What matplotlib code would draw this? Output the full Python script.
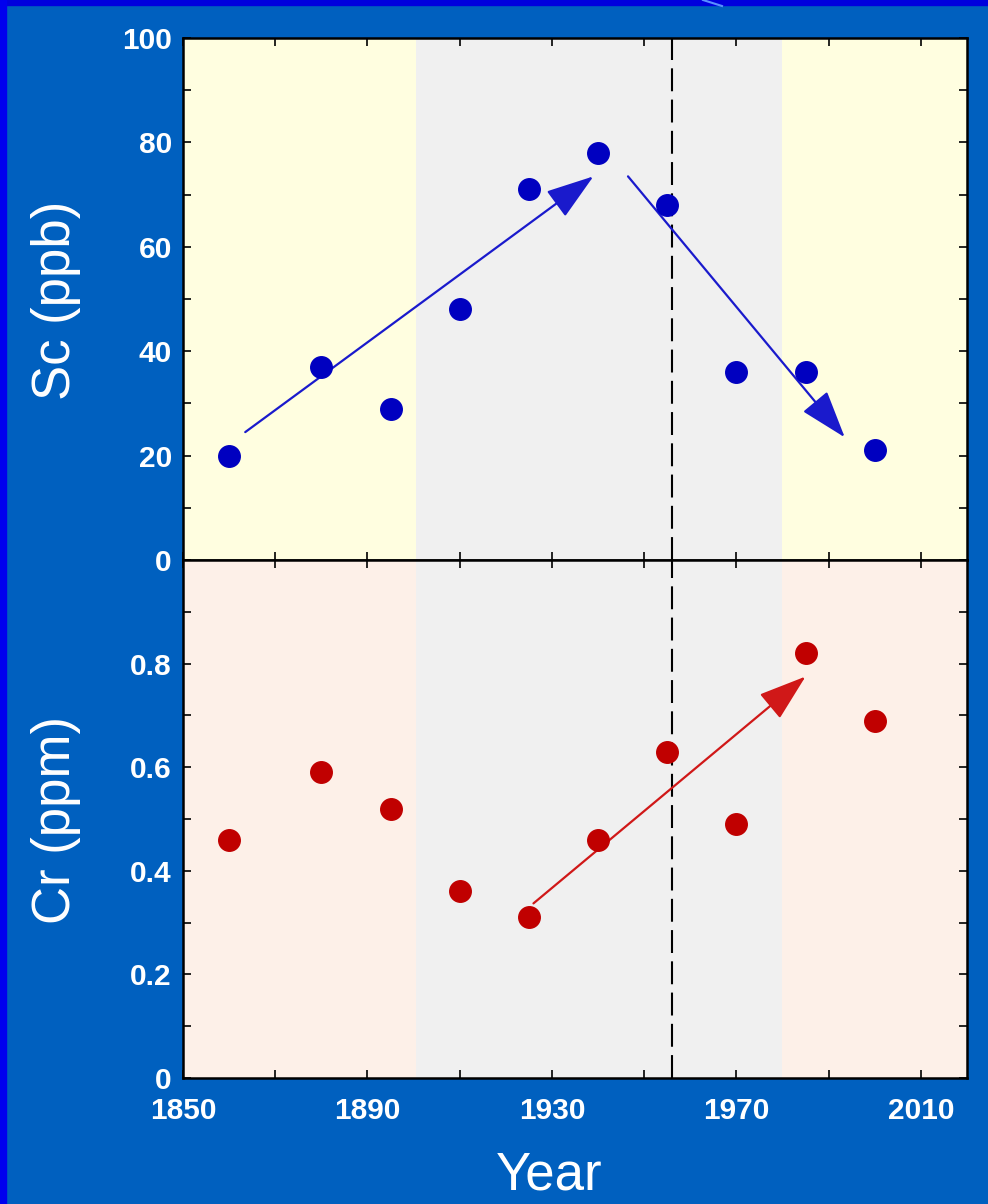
import matplotlib
matplotlib.use("Agg")
import matplotlib.pyplot as plt
from matplotlib.ticker import FixedLocator, FixedFormatter, MultipleLocator

plt.rcParams['font.family'] = ['Liberation Sans', 'DejaVu Sans']

# sample years and concentrations
years = [1860, 1880, 1895, 1910, 1925, 1940, 1955, 1970, 1985, 2000]
sc_ppb = [20, 37, 29, 48, 71, 78, 68, 36, 36, 21]
cr_ppm = [0.46, 0.59, 0.52, 0.36, 0.31, 0.46, 0.63, 0.49, 0.82, 0.69]

# trend arrows: (x0, y0, x1, y1)
sc_arrows = [(1863.5, 24.5, 1939, 73.5), (1946.5, 73.5, 1993.5, 23.5)]
cr_arrows = [(1926, 0.337, 1985, 0.775)]

# shaded periods
periods = [(1850, 1900.5), (1900.5, 1980), (1980, 2020)]
sc_shades = ['#FFFEE0', '#F0F0F0', '#FFFEE0']
cr_shades = ['#FDF0E8', '#F0F0F0', '#FDF0E8']
marker_year = 1956

x_major = [1850, 1890, 1930, 1970, 2010]
x_minor = [1870, 1910, 1950, 1990]
cr_major = [0, 0.2, 0.4, 0.6, 0.8]
cr_labels = ['0', '0.2', '0.4', '0.6', '0.8']

BG = '#0060BF'

fig = plt.figure(figsize=(9.88, 12.04), dpi=100, facecolor=BG)
ax1 = fig.add_axes([0.1852, 0.5349, 0.7935, 0.4335])
ax2 = fig.add_axes([0.1852, 0.1047, 0.7935, 0.4302], sharex=ax1)


def style(ax):
    ax.tick_params(which='both', direction='in', top=True, right=True,
                   length=6, width=1.2, color='black',
                   labelsize=21.5, labelcolor='white', pad=8)
    ax.tick_params(axis='x', pad=14)
    for lab in ax.get_xticklabels() + ax.get_yticklabels():
        lab.set_fontweight('bold')
    for s in ax.spines.values():
        s.set_linewidth(1.8)
        s.set_color('black')


for (a, b), c in zip(periods, sc_shades):
    ax1.axvspan(a, b, color=c, lw=0, zorder=0)
for (a, b), c in zip(periods, cr_shades):
    ax2.axvspan(a, b, color=c, lw=0, zorder=0)

for ax in (ax1, ax2):
    ax.axvline(marker_year, color='black', lw=1.5, dashes=(11, 4), zorder=1)

ax1.plot(years, sc_ppb, 'o', color='#0000C0', ms=15.5, mec='#0000C0', zorder=4)
ax2.plot(years, cr_ppm, 'o', color='#C00000', ms=15.5, mec='#C00000', zorder=4)

head = '-|>,head_length=1.5,head_width=0.5'
for x0, y0, x1, y1 in sc_arrows:
    ax1.annotate('', xy=(x1, y1), xytext=(x0, y0),
                 arrowprops=dict(arrowstyle=head, mutation_scale=20,
                                 color='#1A1ACC', lw=1.6,
                                 shrinkA=0, shrinkB=0), zorder=3)
for x0, y0, x1, y1 in cr_arrows:
    ax2.annotate('', xy=(x1, y1), xytext=(x0, y0),
                 arrowprops=dict(arrowstyle=head, mutation_scale=20,
                                 color='#D01818', lw=1.6,
                                 shrinkA=0, shrinkB=0), zorder=3)

ax1.set_xlim(1850, 2020)
ax1.set_ylim(0, 100)
ax2.set_ylim(0, 1.0)

ax1.xaxis.set_major_locator(FixedLocator(x_major))
ax1.xaxis.set_minor_locator(FixedLocator(x_minor))
ax1.yaxis.set_major_locator(MultipleLocator(20))
ax1.yaxis.set_minor_locator(MultipleLocator(10))
ax2.yaxis.set_major_locator(FixedLocator(cr_major))
ax2.yaxis.set_major_formatter(FixedFormatter(cr_labels))
ax2.yaxis.set_minor_locator(MultipleLocator(0.1))

ax1.tick_params(axis='x', labelbottom=False)
style(ax1)
style(ax2)

fig.text(56 / 988, 1 - 300 / 1204, 'Sc (ppb)', rotation=90, color='white',
         fontsize=38, ha='center', va='center')
fig.text(56 / 988, 1 - 820 / 1204, 'Cr (ppm)', rotation=90, color='white',
         fontsize=38, ha='center', va='center')
fig.text(549 / 988, 1 - 1190 / 1204, 'Year', color='white',
         fontsize=38, ha='center', va='baseline')

# slide frame decoration
fig.patches.append(plt.Rectangle((0, 1 - 5 / 1204), 1, 5 / 1204,
                                 transform=fig.transFigure, color='#0000DD', zorder=0))
fig.patches.append(plt.Rectangle((0, 0), 6 / 988, 1,
                                 transform=fig.transFigure, color='#0000EE', zorder=0))
fig.lines.append(plt.Line2D([703 / 988, 722 / 988], [1, 1 - 6 / 1204],
                            transform=fig.transFigure, color='#5A90FF', lw=1.5))

fig.savefig('out.png', dpi=100, facecolor=BG)
